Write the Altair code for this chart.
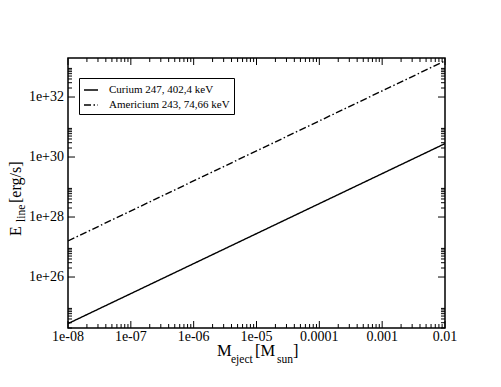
import altair as alt
import pandas as pd

# ---- data ----
mass = [1e-8, 1e-2]
curium = [2.8e24, 2.8e30]
americium = [1.6e27, 1.6e33]
series_names = ["Curium 247, 402,4 keV", "Americium 243, 74,66 keV"]

x_major = [1e-8, 1e-7, 1e-6, 1e-5, 1e-4, 1e-3, 1e-2]
x_labels = ["1e-08", "1e-07", "1e-06", "1e-05", "0.0001", "0.001", "0.01"]
y_major = [1e26, 1e28, 1e30, 1e32]
y_labels = ["1e+26", "1e+28", "1e+30", "1e+32"]
x_minor = [k * 10.0 ** n for n in range(-8, -2) for k in range(2, 10)]
y_minor = [k * 10.0 ** n for n in (24, 26, 28, 30, 32) for k in range(2, 10)]
x_domain = [1e-8, 1e-2]
y_domain = [2e24, 2e33]

W, H = 377, 270
FONT = "'Liberation Serif', 'Times New Roman', 'DejaVu Serif', serif"

df = pd.DataFrame({
    "mass": mass + mass,
    "E": curium + americium,
    "series": [series_names[0]] * len(mass) + [series_names[1]] * len(mass),
})

xs = alt.Scale(type="log", domain=x_domain, nice=False)
ys = alt.Scale(type="log", domain=y_domain, nice=False)

lines = alt.Chart(df).mark_line(color="black", strokeWidth=1.4, clip=True).encode(
    x=alt.X("mass:Q", scale=xs, axis=None),
    y=alt.Y("E:Q", scale=ys, axis=None),
    strokeDash=alt.StrokeDash(
        "series:N",
        scale=alt.Scale(domain=series_names, range=[[1, 0], [7, 2.5, 1.5, 2.5]]),
        legend=alt.Legend(orient="none", legendX=11, legendY=20, title=None,
                          direction="vertical"),
    ),
    detail="series:N",
)


def xticks(vals, length, top):
    d = pd.DataFrame({"v": vals})
    y0, y1 = (0, length) if top else (H, H - length)
    return alt.Chart(d).mark_rule(color="black", strokeWidth=1).encode(
        x=alt.X("v:Q", scale=xs, axis=None),
        y=alt.value(y0), y2=alt.value(y1))


def yticks(vals, length, right):
    d = pd.DataFrame({"v": vals})
    x0, x1 = (W, W - length) if right else (0, length)
    return alt.Chart(d).mark_rule(color="black", strokeWidth=1).encode(
        y=alt.Y("v:Q", scale=ys, axis=None),
        x=alt.value(x0), x2=alt.value(x1))


ticks = [
    xticks(x_major, 7, False), xticks(x_major, 7, True),
    xticks(x_minor, 4, False), xticks(x_minor, 4, True),
    yticks(y_major, 7, False), yticks(y_major, 7, True),
    yticks(y_minor, 4, False), yticks(y_minor, 4, True),
]

# tick labels placed through the scales
x_lab = alt.Chart(pd.DataFrame({"v": x_major, "t": x_labels})).mark_text(
    font=FONT, fontSize=14, align="center", baseline="alphabetic", color="black"
).encode(x=alt.X("v:Q", scale=xs, axis=None), y=alt.value(H + 13), text="t:N")

y_lab = alt.Chart(pd.DataFrame({"v": y_major, "t": y_labels})).mark_text(
    font=FONT, fontSize=14, align="right", baseline="middle", color="black"
).encode(y=alt.Y("v:Q", scale=ys, axis=None), x=alt.value(-4), text="t:N")

# axis titles built from pieces (main text + subscripts)
x_title_parts = ["M", "eject", "[M", "sun", "]"]
x_title_x = [149, 163, 187, 209, 225]
x_title_dy = [298, 305, 298, 305, 298]
x_title_size = [16.5, 11.5, 16.5, 11.5, 16.5]

y_title_parts = ["E", "line", "[erg/s]"]
y_title_y = [178, 164, 145]
y_title_x = [-47.5, -43.5, -47.5]
y_title_size = [16, 11.5, 16]

texts = []
for t, px, py, fs in zip(x_title_parts, x_title_x, x_title_dy, x_title_size):
    texts.append(
        alt.Chart(pd.DataFrame({"t": [t]})).mark_text(
            font=FONT, fontSize=fs, align="left", baseline="alphabetic", color="black"
        ).encode(text="t:N", x=alt.value(px), y=alt.value(py))
    )
for t, px, py, fs in zip(y_title_parts, y_title_x, y_title_y, y_title_size):
    texts.append(
        alt.Chart(pd.DataFrame({"t": [t]})).mark_text(
            font=FONT, fontSize=fs, align="left", baseline="alphabetic", angle=270,
            color="black"
        ).encode(text="t:N", x=alt.value(px), y=alt.value(py))
    )

chart = alt.layer(lines, *ticks, x_lab, y_lab, *texts).properties(
    width=W, height=H,
    autosize=alt.AutoSizeParams(type="none"),
    padding={"left": 60, "top": 50, "right": 48, "bottom": 51},
).configure_view(
    stroke="black", strokeWidth=1.5
).configure_legend(
    symbolType="stroke", symbolStrokeColor="black", symbolStrokeWidth=1.4,
    symbolSize=196, labelFont=FONT, labelFontSize=11, labelColor="black",
    labelOffset=10, padding=4, rowPadding=2, strokeColor="black",
    fillColor="white", cornerRadius=0, labelLimit=300
)

chart.save("out.html", embed_options={"renderer": "svg", "actions": False})
